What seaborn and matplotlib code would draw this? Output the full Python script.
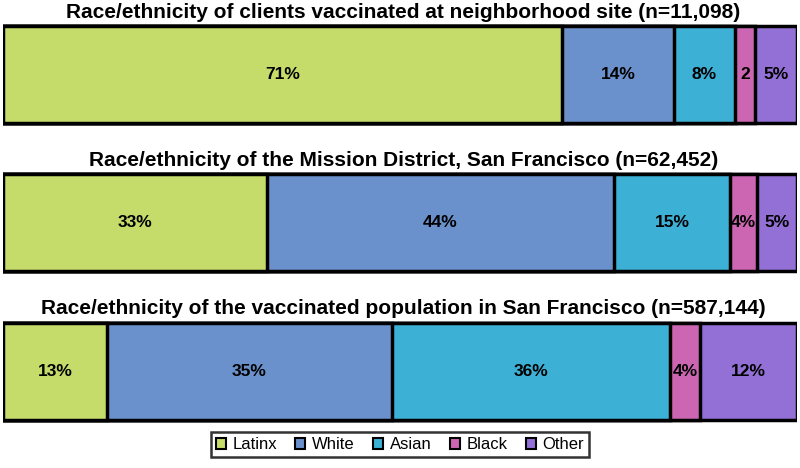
import numpy as np
import pandas as pd
import seaborn as sns
import matplotlib.pyplot as plt
from matplotlib.patches import Patch

groups = ["Latinx", "White", "Asian", "Black", "Other"]
colors = ["#C5DC6A", "#6A91CC", "#3DB0D6", "#CC66B3", "#9370D6"]

titles = [
    "Race/ethnicity of clients vaccinated at neighborhood site (n=11,098)",
    "Race/ethnicity of the Mission District, San Francisco (n=62,452)",
    "Race/ethnicity of the vaccinated population in San Francisco (n=587,144)",
]

# shares in percent
site_vals = [70.4, 14.1, 7.7, 2.5, 5.3]
mission_vals = [33.2, 43.8, 14.6, 3.3, 5.1]
sf_vals = [13.1, 35.9, 35.0, 3.8, 12.2]

site_labels = ["71%", "14%", "8%", "2", "5%"]
mission_labels = ["33%", "44%", "15%", "4%", "5%"]
sf_labels = ["13%", "35%", "36%", "4%", "12%"]

vals = np.array([site_vals, mission_vals, sf_vals])
labels = [site_labels, mission_labels, sf_labels]
cum = vals.cumsum(axis=1)

sns.set_style("white")
plt.rcParams['font.family'] = ['Liberation Sans', 'DejaVu Sans']
plt.rcParams['text.color'] = 'black'

fig = plt.figure(figsize=(8, 4.68), dpi=100)
ax = fig.add_axes([3 / 800, 1 - 445.2 / 468, 794 / 800, 444.75 / 468])

# draw stacked bars back to front: largest cumulative first
for j in range(len(groups) - 1, -1, -1):
    df = pd.DataFrame({"panel": ["0", "1", "2"], "x": cum[:, j]})
    sns.barplot(data=df, x="x", y="panel", orient="h", color=colors[j],
                width=0.654, edgecolor="black", linewidth=2.5, saturation=1,
                ax=ax)

for i in range(3):
    left = 0
    for j in range(len(groups)):
        ax.text(left + vals[i, j] / 2, i, labels[i][j], ha="center",
                va="center", fontsize=12.5, fontweight="bold")
        left += vals[i, j]
    ax.text(50.4, i - 0.42, titles[i], ha="center", va="center",
            fontsize=15, fontweight="bold")

ax.set_xlim(0, 100)
ax.set_ylim(2.5, -0.5)
ax.axis("off")

handles = [Patch(facecolor=c, edgecolor="black", linewidth=1.5) for c in colors]
leg = fig.legend(handles, groups, loc="lower center", bbox_to_anchor=(0.5, 0.005),
                 ncol=5, frameon=True, fancybox=False, fontsize=12,
                 handlelength=0.6, handleheight=0.6, handletextpad=0.4,
                 columnspacing=1.1, borderpad=0.3)
leg.get_frame().set_edgecolor("black")
leg.get_frame().set_linewidth(1.8)

fig.savefig("out.png", dpi=100)
